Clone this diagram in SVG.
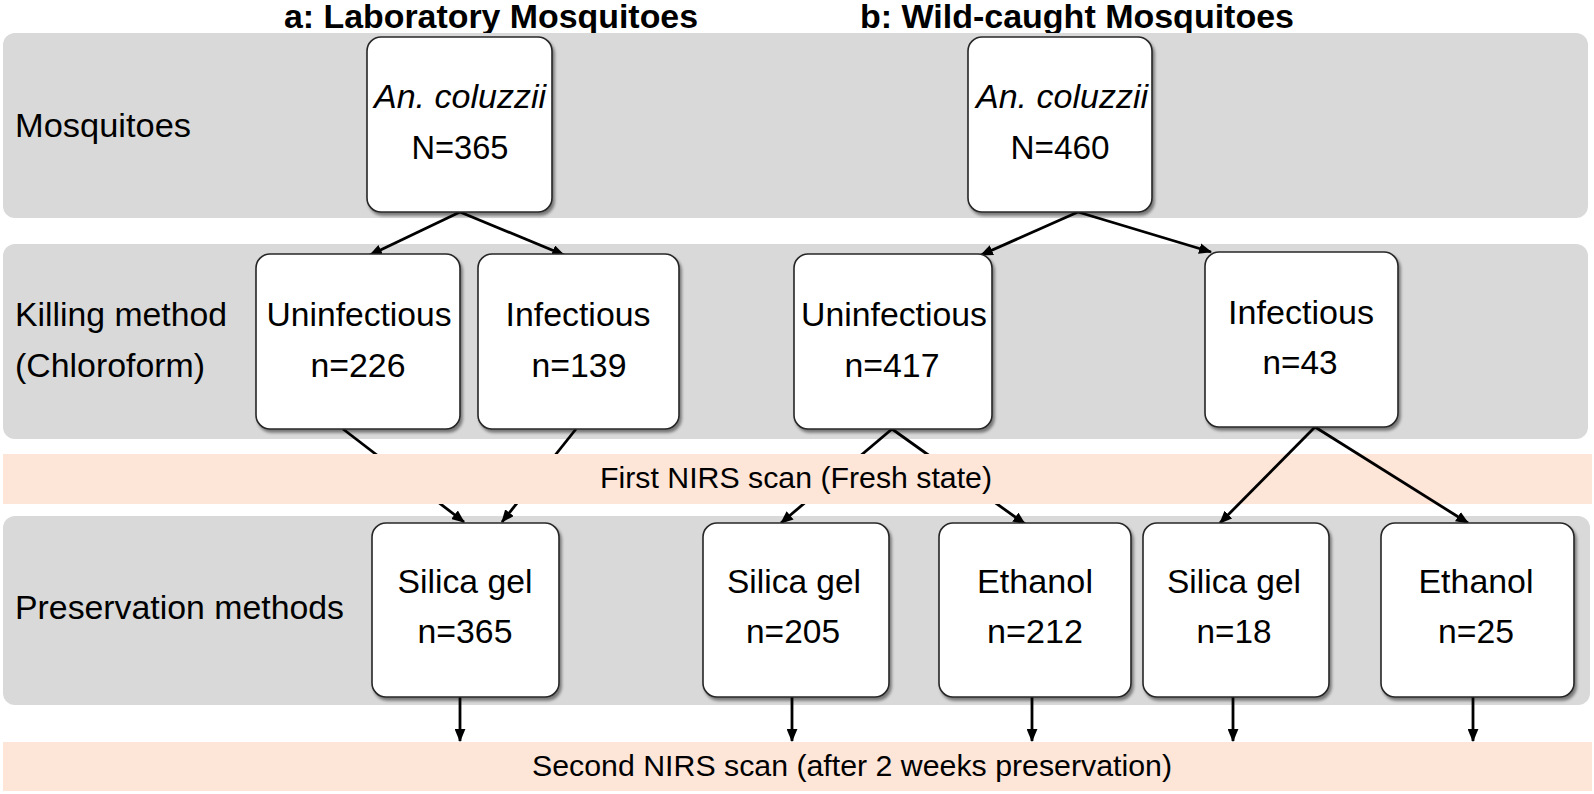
<svg xmlns="http://www.w3.org/2000/svg" width="1594" height="794" viewBox="0 0 1594 794">
<defs>
<style>
.band{fill:#d9d9d9}
.scan{fill:#fde5d8}
.box{fill:#fff;stroke:#262626;stroke-width:1.6;filter:url(#sh)}
.t{font-family:"Liberation Sans",Arial,sans-serif;font-size:33px;fill:#000;text-anchor:middle}
.it{font-style:italic}
.lab{font-family:"Liberation Sans",Arial,sans-serif;font-size:33px;fill:#000}
.st{font-family:"Liberation Sans",Arial,sans-serif;font-size:30px;fill:#000;text-anchor:middle}
.ttl{font-family:"Liberation Sans",Arial,sans-serif;font-size:33px;font-weight:bold;fill:#000;text-anchor:middle}
.c{fill:none;stroke:#000;stroke-width:2.8;marker-end:url(#ah)}
</style>
<filter id="sh" x="-10%" y="-10%" width="125%" height="125%">
<feDropShadow dx="2" dy="3" stdDeviation="1.5" flood-color="#000" flood-opacity="0.45"/>
</filter>
<marker id="ah" viewBox="0 0 12 10" refX="11" refY="5" markerWidth="13" markerHeight="11" markerUnits="userSpaceOnUse" orient="auto">
<path d="M0,0 L12,5 L0,10 z" fill="#000"/>
</marker>
</defs>
<rect width="1594" height="794" fill="#fff"/>
<g id="titles">
<text class="ttl" x="491" y="28" textLength="414" lengthAdjust="spacingAndGlyphs">a: Laboratory Mosquitoes</text>
<text class="ttl" x="1077" y="28" textLength="434" lengthAdjust="spacingAndGlyphs">b: Wild-caught Mosquitoes</text>
</g>
<g id="bands">
<rect class="band" x="3" y="33" width="1585" height="185" rx="12"/>
<rect class="band" x="3" y="244" width="1585" height="195" rx="12"/>
<rect class="band" x="3" y="516" width="1587" height="189" rx="12"/>
<text class="lab" x="15" y="137" textLength="176" lengthAdjust="spacingAndGlyphs">Mosquitoes</text>
<text class="lab" x="15" y="326" textLength="212" lengthAdjust="spacingAndGlyphs">Killing method</text>
<text class="lab" x="15" y="377" textLength="190" lengthAdjust="spacingAndGlyphs">(Chloroform)</text>
<text class="lab" x="15" y="619" textLength="329" lengthAdjust="spacingAndGlyphs">Preservation methods</text>
</g>
<g id="connectors-under">
<line class="c" x1="460" y1="212" x2="370" y2="255"/>
<line class="c" x1="460" y1="212" x2="564" y2="255"/>
<line class="c" x1="1078" y1="212" x2="981" y2="255"/>
<line class="c" x1="1078" y1="212" x2="1211" y2="252"/>
<line class="c" x1="343" y1="429" x2="464" y2="522"/>
<line class="c" x1="576" y1="429" x2="502" y2="522"/>
<line class="c" x1="892" y1="429" x2="781" y2="523"/>
<line class="c" x1="892" y1="429" x2="1025" y2="524"/>
</g>
<g id="scan1">
<rect class="scan" x="3" y="454" width="1589" height="50"/>
<text class="st" x="796" y="488" textLength="392" lengthAdjust="spacingAndGlyphs">First NIRS scan (Fresh state)</text>
</g>
<g id="scan2">
<rect class="scan" x="3" y="742" width="1589" height="49"/>
<text class="st" x="852" y="776" textLength="640" lengthAdjust="spacingAndGlyphs">Second NIRS scan (after 2 weeks preservation)</text>
</g>
<g id="connectors">
<line class="c" x1="1315" y1="427" x2="1220" y2="523"/>
<line class="c" x1="1315" y1="427" x2="1468" y2="523"/>
<line class="c" x1="460" y1="697" x2="460" y2="741"/>
<line class="c" x1="792" y1="697" x2="792" y2="741"/>
<line class="c" x1="1032" y1="697" x2="1032" y2="741"/>
<line class="c" x1="1233" y1="697" x2="1233" y2="741"/>
<line class="c" x1="1473" y1="697" x2="1473" y2="741"/>
</g>
<g id="lab-mosq">
<rect class="box" x="367" y="37" width="185" height="175" rx="14"/>
<text class="t it" x="460" y="108" textLength="172" lengthAdjust="spacingAndGlyphs">An. coluzzii</text>
<text class="t" x="460" y="159" textLength="97" lengthAdjust="spacingAndGlyphs">N=365</text>
</g>
<g id="wild-mosq">
<rect class="box" x="968" y="37" width="184" height="175" rx="14"/>
<text class="t it" x="1062" y="108" textLength="172" lengthAdjust="spacingAndGlyphs">An. coluzzii</text>
<text class="t" x="1060" y="159" textLength="99" lengthAdjust="spacingAndGlyphs">N=460</text>
</g>
<g id="lab-uninf">
<rect class="box" x="256" y="254" width="204" height="175" rx="14"/>
<text class="t" x="359" y="326" textLength="185" lengthAdjust="spacingAndGlyphs">Uninfectious</text>
<text class="t" x="358" y="377" textLength="95" lengthAdjust="spacingAndGlyphs">n=226</text>
</g>
<g id="lab-inf">
<rect class="box" x="478" y="254" width="201" height="175" rx="14"/>
<text class="t" x="578" y="326" textLength="145" lengthAdjust="spacingAndGlyphs">Infectious</text>
<text class="t" x="579" y="377" textLength="95" lengthAdjust="spacingAndGlyphs">n=139</text>
</g>
<g id="wild-uninf">
<rect class="box" x="794" y="254" width="198" height="175" rx="14"/>
<text class="t" x="894" y="326" textLength="186" lengthAdjust="spacingAndGlyphs">Uninfectious</text>
<text class="t" x="892" y="377" textLength="95" lengthAdjust="spacingAndGlyphs">n=417</text>
</g>
<g id="wild-inf">
<rect class="box" x="1205" y="252" width="193" height="175" rx="14"/>
<text class="t" x="1301" y="324" textLength="146" lengthAdjust="spacingAndGlyphs">Infectious</text>
<text class="t" x="1300" y="374" textLength="75" lengthAdjust="spacingAndGlyphs">n=43</text>
</g>
<g id="lab-silica">
<rect class="box" x="372" y="523" width="187" height="174" rx="14"/>
<text class="t" x="465" y="593" textLength="135" lengthAdjust="spacingAndGlyphs">Silica gel</text>
<text class="t" x="465" y="643" textLength="95" lengthAdjust="spacingAndGlyphs">n=365</text>
</g>
<g id="wild-uninf-silica">
<rect class="box" x="703" y="523" width="186" height="174" rx="14"/>
<text class="t" x="794" y="593" textLength="134" lengthAdjust="spacingAndGlyphs">Silica gel</text>
<text class="t" x="793" y="643" textLength="94" lengthAdjust="spacingAndGlyphs">n=205</text>
</g>
<g id="wild-uninf-ethanol">
<rect class="box" x="939" y="523" width="192" height="174" rx="14"/>
<text class="t" x="1035" y="593" textLength="116" lengthAdjust="spacingAndGlyphs">Ethanol</text>
<text class="t" x="1035" y="643" textLength="96" lengthAdjust="spacingAndGlyphs">n=212</text>
</g>
<g id="wild-inf-silica">
<rect class="box" x="1143" y="523" width="186" height="174" rx="14"/>
<text class="t" x="1234" y="593" textLength="134" lengthAdjust="spacingAndGlyphs">Silica gel</text>
<text class="t" x="1234" y="643" textLength="75" lengthAdjust="spacingAndGlyphs">n=18</text>
</g>
<g id="wild-inf-ethanol">
<rect class="box" x="1381" y="523" width="193" height="174" rx="14"/>
<text class="t" x="1476" y="593" textLength="115" lengthAdjust="spacingAndGlyphs">Ethanol</text>
<text class="t" x="1476" y="643" textLength="76" lengthAdjust="spacingAndGlyphs">n=25</text>
</g>
</svg>
